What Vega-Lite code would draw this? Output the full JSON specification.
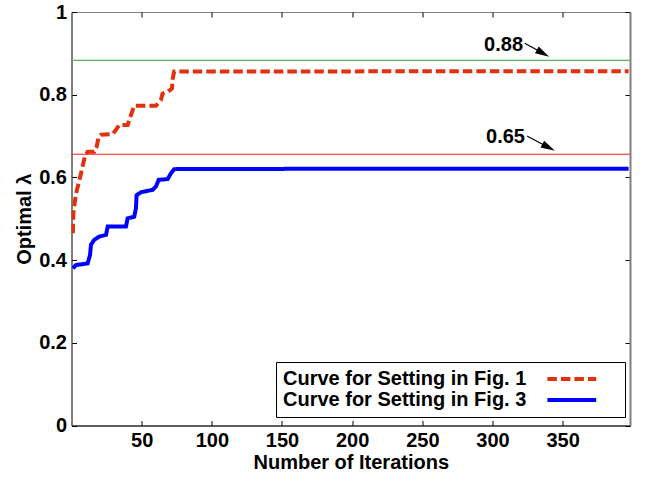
{
  "$schema": "https://vega.github.io/schema/vega-lite/v6.json",
  "width": 558.5,
  "height": 413.5,
  "autosize": {"type": "none"},
  "padding": {"left": 71.5, "top": 12, "right": 18, "bottom": 51.5},
  "background": "white",
  "config": {
    "font": "Liberation Sans",
    "view": {"stroke": "#808080", "strokeWidth": 1},
    "axis": {
      "labelFont": "Liberation Sans", "labelFontWeight": "bold", "labelFontSize": 20, "labelColor": "black",
      "titleFont": "Liberation Sans", "titleFontWeight": "bold", "titleFontSize": 20, "titleColor": "black",
      "grid": false, "tickColor": "black", "tickSize": -5, "domainColor": "black"
    },
    "legend": {
      "labelFont": "Liberation Sans", "labelFontWeight": "bold", "labelFontSize": 20, "labelColor": "black", "labelLimit": 400
    }
  },
  "datasets": {
    "curves": [
      {"iter": 1, "lambda": 0.465, "curve": "Curve for Setting in Fig. 1"},
      {"iter": 1.3, "lambda": 0.513, "curve": "Curve for Setting in Fig. 1"},
      {"iter": 3.2, "lambda": 0.561, "curve": "Curve for Setting in Fig. 1"},
      {"iter": 5.1, "lambda": 0.586, "curve": "Curve for Setting in Fig. 1"},
      {"iter": 6.8, "lambda": 0.61, "curve": "Curve for Setting in Fig. 1"},
      {"iter": 8.4, "lambda": 0.634, "curve": "Curve for Setting in Fig. 1"},
      {"iter": 9.8, "lambda": 0.654, "curve": "Curve for Setting in Fig. 1"},
      {"iter": 11.5, "lambda": 0.662, "curve": "Curve for Setting in Fig. 1"},
      {"iter": 16.2, "lambda": 0.662, "curve": "Curve for Setting in Fig. 1"},
      {"iter": 17.9, "lambda": 0.674, "curve": "Curve for Setting in Fig. 1"},
      {"iter": 19.4, "lambda": 0.698, "curve": "Curve for Setting in Fig. 1"},
      {"iter": 21, "lambda": 0.703, "curve": "Curve for Setting in Fig. 1"},
      {"iter": 29.3, "lambda": 0.705, "curve": "Curve for Setting in Fig. 1"},
      {"iter": 31.7, "lambda": 0.715, "curve": "Curve for Setting in Fig. 1"},
      {"iter": 34, "lambda": 0.727, "curve": "Curve for Setting in Fig. 1"},
      {"iter": 40, "lambda": 0.727, "curve": "Curve for Setting in Fig. 1"},
      {"iter": 42.4, "lambda": 0.751, "curve": "Curve for Setting in Fig. 1"},
      {"iter": 44.7, "lambda": 0.773, "curve": "Curve for Setting in Fig. 1"},
      {"iter": 60.2, "lambda": 0.773, "curve": "Curve for Setting in Fig. 1"},
      {"iter": 63.7, "lambda": 0.787, "curve": "Curve for Setting in Fig. 1"},
      {"iter": 64.9, "lambda": 0.803, "curve": "Curve for Setting in Fig. 1"},
      {"iter": 68.5, "lambda": 0.807, "curve": "Curve for Setting in Fig. 1"},
      {"iter": 71.6, "lambda": 0.815, "curve": "Curve for Setting in Fig. 1"},
      {"iter": 72.1, "lambda": 0.839, "curve": "Curve for Setting in Fig. 1"},
      {"iter": 73.2, "lambda": 0.856, "curve": "Curve for Setting in Fig. 1"},
      {"iter": 397, "lambda": 0.857, "curve": "Curve for Setting in Fig. 1"},
      {"iter": 1, "lambda": 0.38, "curve": "Curve for Setting in Fig. 3"},
      {"iter": 3.2, "lambda": 0.388, "curve": "Curve for Setting in Fig. 3"},
      {"iter": 11.5, "lambda": 0.392, "curve": "Curve for Setting in Fig. 3"},
      {"iter": 13.2, "lambda": 0.412, "curve": "Curve for Setting in Fig. 3"},
      {"iter": 13.9, "lambda": 0.437, "curve": "Curve for Setting in Fig. 3"},
      {"iter": 16.2, "lambda": 0.449, "curve": "Curve for Setting in Fig. 3"},
      {"iter": 19.8, "lambda": 0.457, "curve": "Curve for Setting in Fig. 3"},
      {"iter": 24.6, "lambda": 0.461, "curve": "Curve for Setting in Fig. 3"},
      {"iter": 25.8, "lambda": 0.481, "curve": "Curve for Setting in Fig. 3"},
      {"iter": 38.8, "lambda": 0.481, "curve": "Curve for Setting in Fig. 3"},
      {"iter": 40, "lambda": 0.501, "curve": "Curve for Setting in Fig. 3"},
      {"iter": 44.7, "lambda": 0.505, "curve": "Curve for Setting in Fig. 3"},
      {"iter": 45.9, "lambda": 0.525, "curve": "Curve for Setting in Fig. 3"},
      {"iter": 46.4, "lambda": 0.557, "curve": "Curve for Setting in Fig. 3"},
      {"iter": 49.5, "lambda": 0.564, "curve": "Curve for Setting in Fig. 3"},
      {"iter": 57.8, "lambda": 0.57, "curve": "Curve for Setting in Fig. 3"},
      {"iter": 60.2, "lambda": 0.578, "curve": "Curve for Setting in Fig. 3"},
      {"iter": 62.1, "lambda": 0.594, "curve": "Curve for Setting in Fig. 3"},
      {"iter": 68.5, "lambda": 0.596, "curve": "Curve for Setting in Fig. 3"},
      {"iter": 70.9, "lambda": 0.61, "curve": "Curve for Setting in Fig. 3"},
      {"iter": 73.2, "lambda": 0.62, "curve": "Curve for Setting in Fig. 3"},
      {"iter": 200, "lambda": 0.621, "curve": "Curve for Setting in Fig. 3"},
      {"iter": 397, "lambda": 0.621, "curve": "Curve for Setting in Fig. 3"}
    ],
    "refs": [
      {"ref": 0.883, "kind": "green"},
      {"ref": 0.656, "kind": "red"}
    ],
    "arrows": [
      {"label": "0.88", "x1": 323.0, "y1": 0.9243, "hx": 336.0, "hy": 0.9001, "ang": 29, "tx": 307.9, "ty": 0.92},
      {"label": "0.65", "x1": 324.6, "y1": 0.7001, "hx": 340.0, "hy": 0.6725, "ang": 28, "tx": 309.3, "ty": 0.6965}
    ]
  },
  "layer": [
    {
      "data": {"name": "refs"},
      "transform": [{"filter": "datum.kind == 'green'"}],
      "mark": {"type": "rule", "color": "#5fb35f", "strokeWidth": 1.3},
      "encoding": {
        "y": {"field": "ref", "type": "quantitative", "scale": {"domain": [0, 1], "nice": false}, "axis": null}
      }
    },
    {
      "data": {"name": "refs"},
      "transform": [{"filter": "datum.kind == 'red'"}],
      "mark": {"type": "rule", "color": "#ff1a1a", "strokeWidth": 1},
      "encoding": {
        "y": {"field": "ref", "type": "quantitative", "scale": {"domain": [0, 1], "nice": false}, "axis": null}
      }
    },
    {
      "data": {"name": "curves"},
      "mark": {"type": "line", "strokeWidth": 4, "clip": true},
      "encoding": {
        "x": {"field": "iter", "type": "quantitative",
              "scale": {"domain": [0, 398], "nice": false, "zero": false},
              "axis": {"title": "Number of Iterations", "values": [50, 100, 150, 200, 250, 300, 350], "format": "d", "orient": "bottom", "labelPadding": 10, "titlePadding": 2}},
        "y": {"field": "lambda", "type": "quantitative",
              "scale": {"domain": [0, 1], "nice": false},
              "axis": {"title": "Optimal λ", "values": [0, 0.2, 0.4, 0.6, 0.8, 1], "format": "~g", "orient": "left", "labelPadding": 10, "domainColor": "#404040"}},
        "color": {"field": "curve", "type": "nominal",
                  "scale": {"domain": ["Curve for Setting in Fig. 1", "Curve for Setting in Fig. 3"], "range": ["#e2310e", "#0000ff"]},
                  "legend": {"title": null, "orient": "none", "legendX": 204.5, "legendY": 350,
                             "strokeColor": "black", "fillColor": "white", "padding": 7, "rowPadding": 1,
                             "symbolType": "M31.8,0H37.9M39.6,0", "symbolSize": 256, "symbolStrokeWidth": 4,
                             "labelOffset": -20, "labelAlign": "left", "labelLimit": 400}},
        "strokeDash": {"field": "curve", "type": "nominal",
                       "scale": {"domain": ["Curve for Setting in Fig. 1", "Curve for Setting in Fig. 3"], "range": [[9.5, 4], [1, 0]]},
                       "legend": {"title": null, "orient": "none", "legendX": 204.5, "legendY": 350,
                             "strokeColor": "black", "fillColor": "white", "padding": 7, "rowPadding": 1,
                             "symbolType": "M31.8,0H37.9M39.6,0", "symbolSize": 256, "symbolStrokeWidth": 4,
                             "labelOffset": -20, "labelAlign": "left", "labelLimit": 400}}
      }
    },
    {
      "data": {"name": "arrows"},
      "mark": {"type": "rule", "color": "black", "strokeWidth": 1.2},
      "encoding": {
        "x": {"field": "x1", "type": "quantitative", "scale": {"domain": [0, 398], "nice": false, "zero": false},
              "axis": {"orient": "top", "title": null, "labels": false, "values": [50, 100, 150, 200, 250, 300, 350], "domain": false}},
        "y": {"field": "y1", "type": "quantitative", "scale": {"domain": [0, 1], "nice": false},
              "axis": {"orient": "right", "title": null, "labels": false, "values": [0, 0.2, 0.4, 0.6, 0.8, 1], "domainColor": "#808080", "domainWidth": 2}},
        "x2": {"field": "hx"},
        "y2": {"field": "hy"}
      }
    },
    {
      "data": {"name": "arrows"},
      "mark": {"type": "point", "shape": "M1,0L-1,-0.55L-1,0.55Z", "filled": true, "color": "black", "size": 200, "opacity": 1},
      "encoding": {
        "x": {"field": "hx", "type": "quantitative", "axis": null},
        "y": {"field": "hy", "type": "quantitative", "axis": null},
        "angle": {"field": "ang", "type": "quantitative", "scale": null}
      }
    },
    {
      "data": {"name": "arrows"},
      "mark": {"type": "text", "font": "Liberation Sans", "fontWeight": "bold", "fontSize": 20, "color": "black", "align": "center", "baseline": "middle"},
      "encoding": {
        "x": {"field": "tx", "type": "quantitative", "axis": null},
        "y": {"field": "ty", "type": "quantitative", "axis": null},
        "text": {"field": "label"}
      }
    }
  ],
  "resolve": {"axis": {"x": "independent", "y": "independent"}}
}
